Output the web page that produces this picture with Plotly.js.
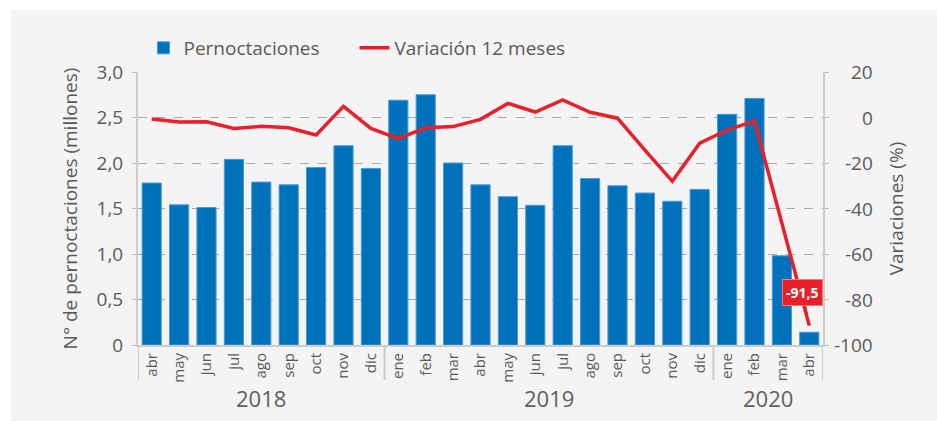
<!DOCTYPE html>
<html><head><meta charset="utf-8">
<script src="https://cdn.plot.ly/plotly-3.0.1.min.js"></script>
<style>
html,body{margin:0;padding:0;background:#fff;}
#chart{position:absolute;left:11px;top:10px;width:926px;height:411px;}
</style></head>
<body><div id="chart"></div>
<script>
const months = ['abr','may','jun','jul','ago','sep','oct','nov','dic',
  'ene','feb','mar','abr','may','jun','jul','ago','sep','oct','nov','dic',
  'ene','feb','mar','abr'];
const years = ['2018','2018','2018','2018','2018','2018','2018','2018','2018',
  '2019','2019','2019','2019','2019','2019','2019','2019','2019','2019','2019','2019',
  '2020','2020','2020','2020'];
const pernoctaciones = [1.78,1.54,1.51,2.04,1.79,1.76,1.95,2.19,1.94,
  2.69,2.75,2.00,1.76,1.63,1.535,2.19,1.83,1.75,1.67,1.58,1.71,
  2.535,2.71,0.98,0.14];
const variacion = [-0.7,-2.0,-1.9,-4.8,-3.9,-4.5,-7.7,4.9,-4.8,
  -9.3,-4.5,-4.0,-0.8,6.2,2.4,7.7,2.3,-0.3,-14.3,-28.0,-11.3,
  -5.5,-1.5,-47,-91.5];
const rightTicks = [20,0,-20,-40,-60,-80,-100];
const leftTickVals = [0,0.5,1,1.5,2,2.5,3];
const leftTickText = ['0','0,5','1,0','1,5','2,0','2,5','3,0'];
const lastLabel = '-91,5';

const FONT = 'Open Sans, Noto Sans, sans-serif';
const TXT = '#5a5a5a';

// category positions (one slot per month)
const xpos = months.map((m, i) => i);

// year groups from the years array
const groups = [];
years.forEach((y, i) => {
  const g = groups[groups.length - 1];
  if (g && g.year === y) g.end = i; else groups.push({year: y, start: i, end: i});
});

const traces = [
  {type:'bar', name:'Pernoctaciones', x:xpos, y:pernoctaciones,
   marker:{color:'#0071bb', line:{color:'#4a9ad8', width:1}}, yaxis:'y'},
  {type:'scatter', mode:'lines', name:'Variación 12 meses', x:xpos, y:variacion,
   line:{color:'#e8202a', width:3.5}, yaxis:'y2'}
];

const annotations = rightTicks.map(v => ({
  xref:'paper', yref:'y2', x:1.076, y:v, text:String(v), showarrow:false,
  xanchor:'right', yanchor:'middle', font:{family:FONT, size:19, color:TXT}
}));
groups.forEach(g => annotations.push({
  xref:'x', yref:'paper', x:(g.start + g.end) / 2, y:-0.195, text:g.year,
  showarrow:false, xanchor:'center', yanchor:'middle',
  font:{family:FONT, size:22, color:'#606060'}
}));
const li = variacion.length - 1;
annotations.push({
  xref:'x', yref:'y2', x:xpos[li], y:variacion[li], text:'<b>'+lastLabel+'</b>',
  showarrow:true, arrowhead:0, arrowwidth:2, arrowcolor:'#e8202a',
  ax:-7, ay:-33, standoff:10, bgcolor:'#e8202a', bordercolor:'#f27a7a', borderwidth:1,
  borderpad:3, font:{family:FONT, size:14, color:'#ffffff'}
});

const shapes = [];
const bounds = [groups[0].start - 0.5].concat(groups.map(g => g.end + 0.5));
bounds.forEach(b => shapes.push({
  type:'line', xref:'x', yref:'paper', x0:b, x1:b, y0:0, y1:-0.128,
  line:{color:'#cccccc', width:2}
}));

const layout = {
  width:926, height:411,
  margin:{l:127, r:114, t:62, b:76, pad:0},
  paper_bgcolor:'#f4f4f4', plot_bgcolor:'rgba(0,0,0,0)',
  font:{family:FONT, color:TXT},
  bargap:0.3,
  showlegend:true,
  legend:{orientation:'h', x:0.008, xanchor:'left', y:1.088, yanchor:'middle',
    entrywidth:166,
    font:{family:FONT, size:19, color:TXT}, bgcolor:'rgba(0,0,0,0)', traceorder:'normal'},
  xaxis:{range:[-0.5, months.length - 0.5], tickvals:xpos, ticktext:months, tickangle:-90,
    tickfont:{family:FONT, size:15, color:TXT},
    showline:true, linecolor:'#cccccc', linewidth:2, showgrid:false, zeroline:false,
    ticks:'', fixedrange:true},
  yaxis:{range:[0,3], tickvals:leftTickVals, ticktext:leftTickText,
    tickfont:{family:FONT, size:19, color:TXT}, ticklabelstandoff:5,
    showgrid:true, gridcolor:'#a8a8a8', griddash:'dash', gridwidth:1,
    zeroline:false, showline:true, linecolor:'#cccccc', linewidth:2,
    ticks:'outside', ticklen:4, tickcolor:'#bbbbbb',
    title:{text:'N° de pernoctaciones (millones)', font:{family:FONT, size:19, color:TXT}, standoff:14}},
  yaxis2:{range:[-100,20], overlaying:'y', side:'right', tickvals:rightTicks,
    showticklabels:false, showgrid:false, zeroline:false,
    showline:true, linecolor:'#cccccc', linewidth:2,
    ticks:'outside', ticklen:4, tickcolor:'#bbbbbb',
    title:{text:'Variaciones (%)', font:{family:FONT, size:19, color:TXT}, standoff:62}},
  annotations:annotations,
  shapes:shapes
};
Plotly.newPlot('chart', traces, layout, {displayModeBar:false, staticPlot:true});
</script></body></html>
